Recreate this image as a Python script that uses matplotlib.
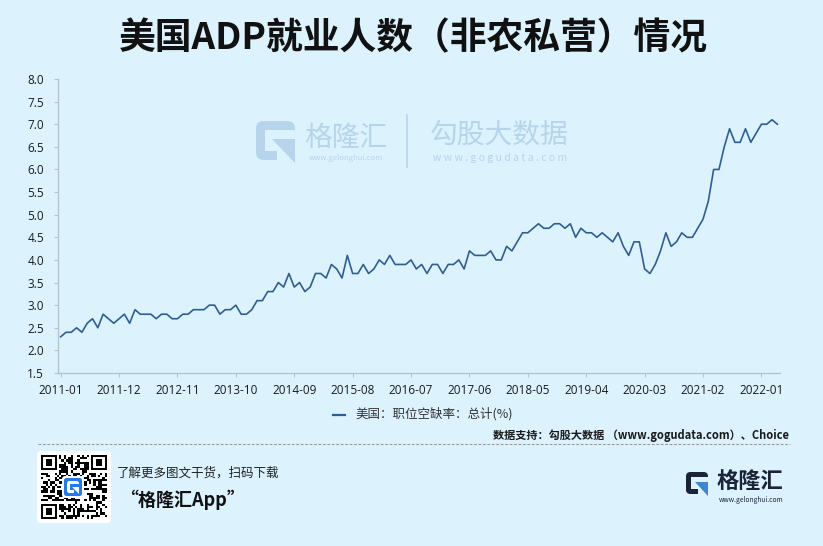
import hashlib
import numpy as np
import matplotlib
matplotlib.use("Agg")
import matplotlib.pyplot as plt
from matplotlib.patches import FancyBboxPatch, Rectangle, Polygon

plt.rcParams['font.family'] = ['Noto Sans CJK SC', 'DejaVu Sans']

# monthly, 2011-01 .. 2022-04
start_year, start_month = 2011, 1
rate = [
    2.3, 2.4, 2.4, 2.5, 2.4, 2.6, 2.7, 2.5, 2.8, 2.7, 2.6, 2.7,   # 2011
    2.8, 2.6, 2.9, 2.8, 2.8, 2.8, 2.7, 2.8, 2.8, 2.7, 2.7, 2.8,   # 2012
    2.8, 2.9, 2.9, 2.9, 3.0, 3.0, 2.8, 2.9, 2.9, 3.0, 2.8, 2.8,   # 2013
    2.9, 3.1, 3.1, 3.3, 3.3, 3.5, 3.4, 3.7, 3.4, 3.5, 3.3, 3.4,   # 2014
    3.7, 3.7, 3.6, 3.9, 3.8, 3.6, 4.1, 3.7, 3.7, 3.9, 3.7, 3.8,   # 2015
    4.0, 3.9, 4.1, 3.9, 3.9, 3.9, 4.0, 3.8, 3.9, 3.7, 3.9, 3.9,   # 2016
    3.7, 3.9, 3.9, 4.0, 3.8, 4.2, 4.1, 4.1, 4.1, 4.2, 4.0, 4.0,   # 2017
    4.3, 4.2, 4.4, 4.6, 4.6, 4.7, 4.8, 4.7, 4.7, 4.8, 4.8, 4.7,   # 2018
    4.8, 4.5, 4.7, 4.6, 4.6, 4.5, 4.6, 4.5, 4.4, 4.6, 4.3, 4.1,   # 2019
    4.4, 4.4, 3.8, 3.7, 3.9, 4.2, 4.6, 4.3, 4.4, 4.6, 4.5, 4.5,   # 2020
    4.7, 4.9, 5.3, 6.0, 6.0, 6.5, 6.9, 6.6, 6.6, 6.9, 6.6, 6.8,   # 2021
    7.0, 7.0, 7.1, 7.0,                                           # 2022
]
months = [f"{start_year + (start_month - 1 + i) // 12}-{(start_month - 1 + i) % 12 + 1:02d}"
          for i in range(len(rate))]
tick_labels = ["2011-01", "2011-12", "2012-11", "2013-10", "2014-09", "2015-08", "2016-07",
               "2017-06", "2018-05", "2019-04", "2020-03", "2021-02", "2022-01"]
y_ticks = [1.5, 2.0, 2.5, 3.0, 3.5, 4.0, 4.5, 5.0, 5.5, 6.0, 6.5, 7.0, 7.5, 8.0]

title = "美国ADP就业人数（非农私营）情况"
series_name = "美国：职位空缺率：总计(%)"
source = "数据支持：勾股大数据 （www.gogudata.com）、Choice"

BG = "#dcf3fe"
WM = "#b6d4ec"
LINE = "#2f5d96"
W, H = 823, 546

fig = plt.figure(figsize=(W / 100, H / 100), dpi=100, facecolor=BG)

# overlay in pixel coords for decorations
deco = fig.add_axes([0, 0, 1, 1], zorder=0)
deco.set_xlim(0, W)
deco.set_ylim(H, 0)
deco.axis("off")


def draw_g(ax, x, y, s, fg, accent, bg):
    ax.add_patch(FancyBboxPatch((x, y), s, s, boxstyle=f"round,pad=0,rounding_size={0.2 * s}",
                                fc=fg, ec="none"))
    ax.add_patch(Rectangle((x + 0.24 * s, y + 0.24 * s), 0.52 * s, 0.52 * s, fc=bg, ec="none"))
    ax.add_patch(Rectangle((x + 0.55 * s, y + 0.24 * s), 0.5 * s, 0.8 * s, fc=bg, ec="none"))
    ax.add_patch(Polygon([(x + 0.42 * s, y + 0.46 * s), (x + s, y + 0.46 * s), (x + s, y + 1.08 * s)],
                         closed=True, fc=accent, ec="none"))


# title
deco.text(W / 2 + 2, 39, title, ha="center", va="center", fontsize=26.5, fontweight="bold", color="#111111")

# watermark
draw_g(deco, 256, 121, 39, WM, WM, BG)
deco.text(346, 138, "格隆汇", ha="center", va="center", fontsize=20, color=WM)
deco.text(346, 158, "www.gelonghui.com", ha="center", va="center", fontsize=5.5, color=WM)
deco.plot([407, 407], [115, 167], color=WM, lw=1.2)
deco.text(499, 135, "勾股大数据", ha="center", va="center", fontsize=20, color=WM)
deco.text(500, 158, "w w w . g o g u d a t a . c o m", ha="center", va="center", fontsize=7.5, color=WM)

# main chart
ax = fig.add_axes([58 / W, 1 - 373 / H, (780 - 58) / W, (373 - 79) / H], zorder=2)
ax.patch.set_visible(False)
x = np.arange(len(months))
ax.plot(x, rate, color=LINE, lw=1.2)
ax.set_xlim(-0.5, len(months) - 0.5)
ax.set_ylim(1.5, 8.0)
ax.set_yticks(y_ticks)
ax.set_yticklabels([f"{v:.1f}" for v in y_ticks])
ax.set_xticks([months.index(t) for t in tick_labels])
ax.set_xticklabels(tick_labels)
for sp in ("top", "right"):
    ax.spines[sp].set_visible(False)
for sp in ("left", "bottom"):
    ax.spines[sp].set_color("#b8c4cc")
    ax.spines[sp].set_linewidth(1.0)
ax.tick_params(axis="both", colors="#b8c4cc", labelcolor="#1a1a1a", length=3, width=0.8)
ax.tick_params(axis="y", pad=7)
ax.tick_params(axis="x", pad=5)
for lab in ax.get_xticklabels() + ax.get_yticklabels():
    lab.set_fontfamily(["Open Sans", "DejaVu Sans"])
    lab.set_fontsize(8.5)

# legend
deco.plot([333, 345], [415, 415], color=LINE, lw=1.6)
deco.text(355, 414, series_name, ha="left", va="center", fontsize=9, color="#333333")

# source + separator
deco.text(789, 435, source, ha="right", va="center", fontsize=8.0, fontweight="bold", color="#1a1a1a")
deco.plot([38, 790], [444, 444], color="#9a9a9a", lw=0.8, ls=(0, (2.5, 1.5)))

# QR code block
deco.add_patch(FancyBboxPatch((37, 451), 74, 72, boxstyle="round,pad=0,rounding_size=4",
                              fc="white", ec="none"))
n = 29
bits = []
seed = b"www.gelonghui.com/app"
while len(bits) < n * n:
    seed = hashlib.sha256(seed).digest()
    for byte in seed:
        bits.extend((byte >> k) & 1 for k in range(8))
qr = np.array(bits[:n * n]).reshape(n, n)
for (r0, c0) in [(0, 0), (0, n - 7), (n - 7, 0)]:
    rr = slice(max(r0 - 1, 0), min(r0 + 8, n))
    cc = slice(max(c0 - 1, 0), min(c0 + 8, n))
    qr[rr, cc] = 0
    qr[r0:r0 + 7, c0:c0 + 7] = 1
    qr[r0 + 1:r0 + 6, c0 + 1:c0 + 6] = 0
    qr[r0 + 2:r0 + 5, c0 + 2:c0 + 5] = 1
deco.imshow(1 - qr, cmap="gray", vmin=0, vmax=1, extent=(41, 107, 519, 455), interpolation="nearest",
            aspect="auto", zorder=3)
deco.add_patch(FancyBboxPatch((62, 476), 22, 22, boxstyle="round,pad=0,rounding_size=3",
                              fc="white", ec="none", zorder=4))
deco.add_patch(FancyBboxPatch((64, 478), 18, 18, boxstyle="round,pad=0,rounding_size=2.5",
                              fc="#2379f2", ec="none", zorder=4))
g_ax = fig.add_axes([0, 0, 1, 1], zorder=1)
g_ax.set_xlim(0, W)
g_ax.set_ylim(H, 0)
g_ax.axis("off")
draw_g(g_ax, 67, 481, 12, "white", "white", "#2379f2")

deco.text(117, 473, "了解更多图文干货，扫码下载", ha="left", va="center", fontsize=9, color="#222222",
          style="italic")
deco.text(183, 500, "“格隆汇App”", ha="center", va="center", fontsize=13, fontweight="bold",
          color="#111111", style="italic")

# bottom-right logo
draw_g(deco, 686, 472, 22, "#1b2338", "#3f84d8", BG)
deco.text(750, 481, "格隆汇", ha="center", va="center", fontsize=16, fontweight="bold", color="#1b2338")
deco.text(751, 500, "www.gelonghui.com", ha="center", va="center", fontsize=4.8, color="#1b2338")

fig.savefig("out.png", dpi=100, facecolor=BG)
